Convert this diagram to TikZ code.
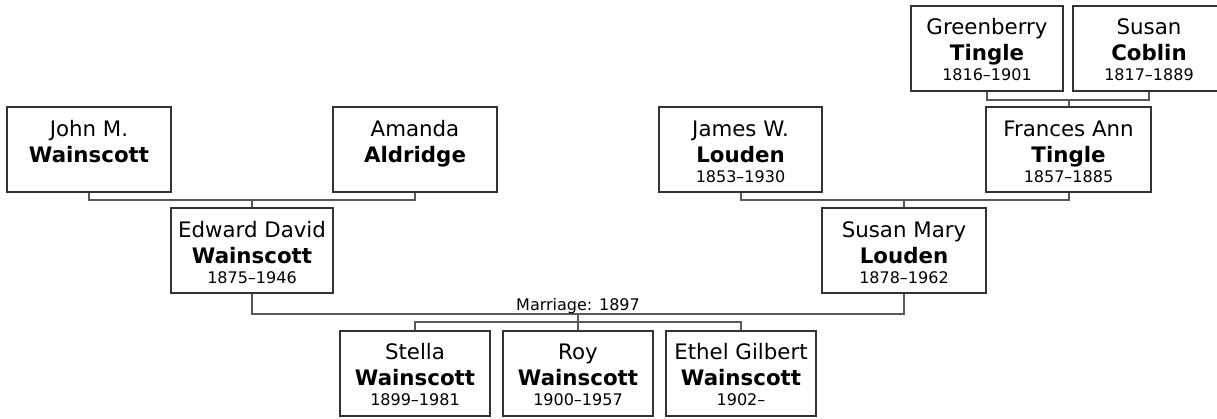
\documentclass[tikz,border=0pt]{standalone}
\usepackage{fontspec}
\setmainfont{DejaVu Sans}
\usetikzlibrary{positioning}

\newcommand{\namefont}{\fontsize{16}{19}\selectfont}
\newcommand{\datefont}{\fontsize{12}{14}\selectfont}
% one box: given name, family name, dates
\newcommand{\person}[3]{%
  \parbox[c][63.75pt][t]{112pt}{\centering\offinterlineskip
    {\namefont\rule[-4pt]{0pt}{25.75pt}#1\par}
    {\namefont\rule[-4pt]{0pt}{19.5pt}\textbf{#2}\par}
    {\datefont\rule{0pt}{11pt}#3\par}}}

\tikzset{
  person/.style={rectangle, draw=black!80, line width=1.5pt, inner sep=0pt,
    minimum width=#1, minimum height=63.75pt, text=black},
  person/.default=123pt,
  link/.style={draw=black!65, line width=1.5pt},
}

\begin{document}
\begin{tikzpicture}[x=0.75pt, y=-0.75pt]
    \useasboundingbox (0,0) rectangle (1217,418);

    % Wainscott side
    \node (jmw) [person] at (89,149.5) {\person{John M.}{Wainscott}{}};
    \node (aal) [person] at (415,149.5) {\person{Amanda}{Aldridge}{}};
    \node (edw) [person=121.5pt] at (252,250.5) {\person{Edward David}{Wainscott}{1875–1946}};

    % Louden side
    \node (jwl) [person=122.25pt] at (740.5,149.5) {\person{James W.}{Louden}{1853–1930}};
    \node (fat) [person=123.75pt] at (1068.5,149.5) {\person{Frances Ann}{Tingle}{1857–1885}};
    \node (gbt) [person=114pt] at (987,48) {\person{Greenberry}{Tingle}{1816–1901}};
    \node (ssc) [person=114pt, right=6pt of gbt] {\person{Susan}{Coblin}{1817–1889}};
    \node (sml) [person] at (904,250.5) {\person{Susan Mary}{Louden}{1878–1962}};

    % children
    \node (stw) [person=112.5pt] at (415,373) {\person{Stella}{Wainscott}{1899–1981}};
    \node (row) [person=112.5pt, right=8.25pt of stw] {\person{Roy}{Wainscott}{1900–1957}};
    \node (egw) [person=112.5pt, right=8.25pt of row] {\person{Ethel Gilbert}{Wainscott}{1902–}};

    \coordinate (wain) at (252,200);
    \coordinate (tin)  at (1068.5,100);
    \coordinate (lou)  at (904,200);
    \coordinate (wed)  at (578,314);
    \coordinate (kids) at (578,322);

    \draw [link] (jmw.south) |- (wain) -| (aal.south);
    \draw [link] (wain) -- (edw.north);
    \draw [link] (gbt.south) |- (tin) -| (ssc.south);
    \draw [link] (tin) -- (fat.north);
    \draw [link] (jwl.south) |- (lou) -| (fat.south);
    \draw [link] (lou) -- (sml.north);
    \draw [link] (edw.south) |- (wed) -| (sml.south);
    \draw [link] (wed) -- (row.north);
    \draw [link] (stw.north) |- (kids) -| (egw.north);

    \node (mar) [anchor=base, font=\datefont] at (578,310) {Marriage: 1897};
\end{tikzpicture}
\end{document}
